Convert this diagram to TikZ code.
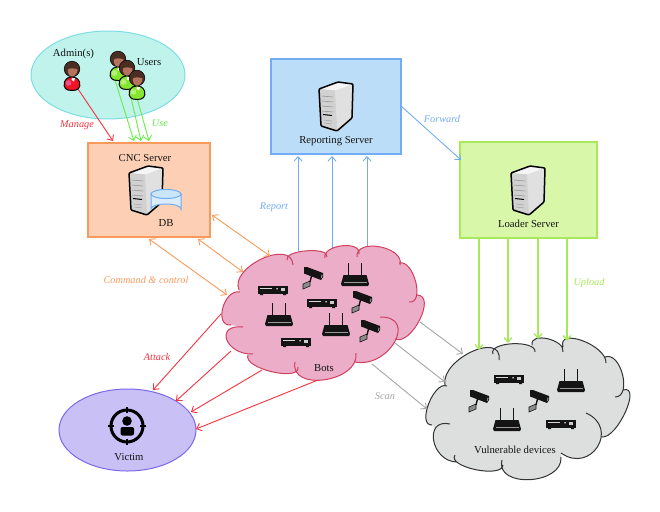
\documentclass[tikz,border=0pt]{standalone}
\usepackage{fontspec}
\setmainfont{Liberation Serif}
\usetikzlibrary{calc,arrows.meta,shapes.geometric}
\definecolor{ovalfill}{HTML}{BFF3EC}\definecolor{ovaldraw}{HTML}{7FDDE2}
\definecolor{cncfill}{HTML}{FDD0B5}\definecolor{cncdraw}{HTML}{F79A5C}
\definecolor{repfill}{HTML}{BBDDF7}\definecolor{repdraw}{HTML}{72ACF5}
\definecolor{loadfill}{HTML}{D8F7A8}\definecolor{loaddraw}{HTML}{A8E85A}
\definecolor{vicfill}{HTML}{C9C0F5}\definecolor{vicdraw}{HTML}{7B68EE}
\definecolor{botfill}{HTML}{EBADC8}\definecolor{botdraw}{HTML}{D0405F}
\definecolor{vulfill}{HTML}{DDDFDF}\definecolor{vuldraw}{HTML}{333333}
\definecolor{redc}{HTML}{F5333F}\definecolor{greenc}{HTML}{66EE44}
\definecolor{orangec}{HTML}{F79A5C}\definecolor{grayc}{HTML}{A5A5A5}
\definecolor{hair}{HTML}{4A2E22}\definecolor{face}{HTML}{B5725C}
\definecolor{ink}{HTML}{141414}
\definecolor{userbody}{HTML}{84E62E}\definecolor{userlight}{HTML}{B5F07A}
\definecolor{adminbody}{HTML}{EE1525}\definecolor{adminlight}{HTML}{F0508A}
\tikzset{
  lbl/.style={font=\fontsize{10.7}{12}\selectfont,text=ink,inner sep=0pt},
  arrowlbl/.style={font=\fontsize{10.3}{12}\selectfont\itshape,inner sep=0pt},
  boxnode/.style={rectangle,line width=1.3pt,inner sep=0pt},
  ovalnode/.style={ellipse,line width=1pt,inner sep=0pt},
  conn/.style={line width=.9pt,-{Straight Barb[length=4.5pt,width=8pt]}},
  conntwo/.style={line width=.9pt,{Straight Barb[length=4.5pt,width=8pt]}-{Straight Barb[length=4.5pt,width=8pt]}},
  connup/.style={line width=1.3pt,-{Straight Barb[length=4.5pt,width=8pt]}},
}
\newcommand{\lobeDraw}[3]{(#1) .. controls ($.413*(#1)+1.333*(#2)-.747*(#3)$) and ($.413*(#3)+1.333*(#2)-.747*(#1)$) .. (#3)}
\newcommand{\lobeFill}[3]{-- \lobeDraw{#1}{#2}{#3}}
\newcommand{\lobeWedge}[3]{\fill \lobeDraw{#1}{#2}{#3} -- (cloudcentre) -- cycle;}
\newcommand{\botsLobes}{%
 \Lobe{239,290}{262,259}{293,265}\Lobe{287,260}{307,251}{327,257}\Lobe{325,258}{342,246}{359,254}%
 \Lobe{357,257}{380,247}{400,265}\Lobe{399,263}{416,282}{409,302}\Lobe{417,295}{420,320}{395,339}%
 \Lobe{380,317}{395,342}{355,362}\Lobe{356,353}{325,380}{295,362}\Lobe{298,367}{272,372}{248,355}%
 \Lobe{253,354}{227,340}{243,327}\Lobe{231,325}{223,308}{240,292}}
\newcommand{\vulnLobes}{%
 \Lobe{445,385}{472,352}{499,360}\Lobe{493,354}{513,344}{535,352}\Lobe{532,345}{548,339}{563,352}%
 \Lobe{563,347}{583,341}{606,363}\Lobe{605,357}{623,375}{615,397}\Lobe{623,390}{626,412}{602,437}%
 \Lobe{586,413}{598,447}{561,453}\Lobe{561,457}{530,480}{502,460}\Lobe{503,465}{476,470}{455,455}%
 \Lobe{450,424}{434,441}{457,462}\Lobe{432,425}{429,404}{447,386}}
% person: head centre
\newcommand{\person}[4]{\begin{scope}[shift={(#1,#2)}]
 \fill[#3,draw=black,line width=1pt] (-7.5,13) .. controls (-9,19) and (-6,21.5) .. (0,21.5) .. controls (6,21.5) and (9,19) .. (7.5,13) .. controls (5,6) and (-5,6) .. (-7.5,13) -- cycle;
 \fill[#4] (-3.5,14) circle (2.8);
 \fill[white] (0,9) -- (3,9) -- (2,12.5) -- (-.5,11) -- cycle;
 \fill[hair,draw=black,line width=.5pt] (0,0) circle (7.8);
 \fill[face] (-4,0.5) .. controls (-3,-1) and (3,-1) .. (5.5,0.5) .. controls (5.5,5) and (2,7.6) .. (0,7.6) .. controls (-3,7.6) and (-4.5,4) .. (-4,0.5) -- cycle;
\end{scope}}
% server: top-left of bounding box
\newcommand{\serverbox}[2]{\begin{scope}[shift={(#1,#2)}]
 \fill[white!88!black] (15.5,8) -- (34,2) -- (33,36) -- (18,49) -- cycle;
 \fill[white!96!black] (0,7) -- (19,0) -- (34,2) -- (16,8.5) -- cycle;
 \fill[white!82!black] (0,7) -- (16,8.5) -- (18,49) -- (2,44) -- cycle;
 \draw[black,line width=1.5pt,line join=round,rounded corners=1pt] (0,7) -- (19,0) -- (34,2) -- (33,36) -- (18,49) -- (2,44) -- cycle;
 \draw[white!55!black,line width=.5pt] (3,14)--(14,15) (3,19)--(14,20) (3,24)--(14,25) (3,29)--(14,30);
 \draw[black,line width=1pt] (4,32.5)--(13,33.5);
 \draw[white!60!black,line width=.4pt] (5,38)--(13,39) (5,41)--(13,42);
\end{scope}}
% router: centre x, bottom y
\newcommand{\routerdev}[2]{\begin{scope}[shift={(#1,#2)}]
 \draw[ink,line width=1pt] (-6.5,-10)--(-6.5,-23) (6,-10)--(6,-23);
 \fill[ink] (-14,-2) -- (-11.5,-11) -- (11.5,-11) -- (14,-2) -- (13,0) -- (-13,0) -- cycle;
 \draw[white!60!black,line width=.3pt] (-11,-3.5)--(12,-3.5);
\end{scope}}
% dvr: centre
\newcommand{\dvrdev}[2]{\begin{scope}[shift={(#1,#2)}]
 \fill[ink] (-15,-4.5) rectangle (15,3.5);
 \fill[ink] (-13,3) rectangle (-10,5) (10,3) rectangle (13,5);
 \fill[white!85!black] (-13,-2.2) rectangle (-1,-1);
 \fill[white] (4,-1.2) circle (.8);
 \fill[white!80!black] (8,-2.5) rectangle (12,.8);
\end{scope}}
% camera: centre
\newcommand{\camdev}[2]{\begin{scope}[shift={(#1,#2)}]
 \fill[white!55!black,draw=ink,line width=.6pt] (-10,6) -- (-3,3) -- (-3,8) -- (-10,11) -- cycle;
 \draw[ink,line width=1.4pt] (-3,4) -- (-1,-4);
 \fill[ink] (-9,-11) -- (-6,-11) -- (10,-5) -- (10,-1) -- (8,2) -- (-9,-4.5) -- cycle;
 \fill[white!55!black] (8.5,-3.5) -- (9.6,-3) -- (8.7,0) -- (7.8,-.5) -- cycle;
\end{scope}}
\begin{document}
\begin{tikzpicture}[x=1pt,y=-1pt]
\useasboundingbox (0,0) rectangle (660,511);
% areas
\node[ovalnode,draw=ovaldraw,fill=ovalfill,minimum width=154pt,minimum height=88pt] (oval) at (108,75) {};
\node[boxnode,draw=cncdraw,fill=cncfill,minimum width=122pt,minimum height=94pt] (cnc) at (149,190) {};
\node[boxnode,draw=repdraw,fill=repfill,minimum width=130pt,minimum height=95pt] (rep) at (336,106.5) {};
\node[boxnode,draw=loaddraw,fill=loadfill,minimum width=137pt,minimum height=96pt] (load) at (528.5,190) {};
\node[ovalnode,draw=vicdraw,fill=vicfill,minimum width=137pt,minimum height=82pt] (victim) at (127.5,430) {};
% connector ends
\coordinate (adminfoot) at (78,89);
\coordinate (userA) at (115,80); \coordinate (userB) at (128,85); \coordinate (userC) at (137,98);
\coordinate (cncM) at (113,141); \coordinate (cncA) at (134,141); \coordinate (cncB) at (141,141); \coordinate (cncC) at (149,141);
\coordinate (cncR) at (212,215); \coordinate (cncS) at (198,239); \coordinate (cncT) at (149,239);
\coordinate (botO1) at (270,256); \coordinate (botO2) at (243,272); \coordinate (botO3) at (227,295);
\coordinate (botU1) at (298,262); \coordinate (botU2) at (332,262); \coordinate (botU3) at (367,262);
\coordinate (repA) at (298,156); \coordinate (repB) at (332,156); \coordinate (repC) at (367,156);
\coordinate (repF) at (401,106); \coordinate (loadF) at (461,160);
\coordinate (loadA) at (479,238); \coordinate (loadB) at (508,238); \coordinate (loadC) at (538,238); \coordinate (loadD) at (567,238);
\coordinate (vulA) at (479,350); \coordinate (vulB) at (508,343); \coordinate (vulC) at (538,339); \coordinate (vulD) at (567,341);
\coordinate (botS1) at (420,322); \coordinate (botS2) at (395,343); \coordinate (botS3) at (372,364);
\coordinate (vulS1) at (463,354); \coordinate (vulS2) at (445,382); \coordinate (vulS3) at (427,409);
\coordinate (botK1) at (221,314); \coordinate (botK2) at (231,351); \coordinate (botK3) at (262,370); \coordinate (botK4) at (318,380);
\coordinate (vicK1) at (153,390); \coordinate (vicK2) at (176,401); \coordinate (vicK3) at (191,412); \coordinate (vicK4) at (196,429);
% report arrows start under the bots cloud
\draw[conn,repdraw] (botU1) -- (repA);
\draw[conn,repdraw] (botU2) -- (repB);
\draw[conn,repdraw] (botU3) -- (repC);
% clouds
\coordinate (cloudcentre) at (325,310);
\begin{scope}[botfill]
\let\Lobe\lobeFill
\fill (239,290) \botsLobes -- cycle;
\let\Lobe\lobeWedge
\botsLobes
\end{scope}
\let\Lobe\lobeDraw
\draw[botdraw,line width=1pt] \botsLobes;
\coordinate (cloudcentre) at (530,410);
\begin{scope}[vulfill]
\let\Lobe\lobeFill
\fill (445,385) \vulnLobes -- cycle;
\let\Lobe\lobeWedge
\vulnLobes
\end{scope}
\let\Lobe\lobeDraw
\draw[vuldraw,line width=1pt] \vulnLobes;
% connectors
\draw[conn,redc] (adminfoot) -- (cncM);
\draw[conn,greenc] (userA) -- (cncA);
\draw[conn,greenc] (userB) -- (cncB);
\draw[conn,greenc] (userC) -- (cncC);
\draw[conntwo,orangec] (cncR) -- (botO1);
\draw[conntwo,orangec] (cncS) -- (botO2);
\draw[conntwo,orangec] (cncT) -- (botO3);
\draw[conn,repdraw] (repF) -- (loadF);
\draw[connup,loaddraw] (loadA) -- (vulA);
\draw[connup,loaddraw] (loadB) -- (vulB);
\draw[connup,loaddraw] (loadC) -- (vulC);
\draw[connup,loaddraw] (loadD) -- (vulD);
\draw[conn,grayc] (botS1) -- (vulS1);
\draw[conn,grayc] (botS2) -- (vulS2);
\draw[conn,grayc] (botS3) -- (vulS3);
\draw[conn,redc] (botK1) -- (vicK1);
\draw[conn,redc] (botK2) -- (vicK2);
\draw[conn,redc] (botK3) -- (vicK3);
\draw[conn,redc] (botK4) -- (vicK4);
% people
\person{72}{69}{adminbody}{adminlight}
\person{118}{59}{userbody}{userlight}
\person{127}{68}{userbody}{userlight}
\person{137}{78}{userbody}{userlight}
% servers
\serverbox{129}{166}
\serverbox{319}{82}
\serverbox{511}{166}
% database
\path[fill=repfill!55!white,draw=repdraw,line width=1pt] (151,194) -- (151,209) arc [start angle=180,end angle=360,x radius=15,y radius=5] -- (181,194) -- cycle;
\path[fill=repfill!75!white,draw=repdraw,line width=1pt] (166,194) ellipse [x radius=15,y radius=4.5];
% devices in bots
\routerdev{355}{286}\routerdev{279}{326}\routerdev{336}{336}
\dvrdev{273}{290}\dvrdev{322}{303}\dvrdev{296}{342}
\camdev{313}{278}\camdev{362}{302}\camdev{370}{331}
% devices in vulnerable cloud
\routerdev{571}{392}\routerdev{507}{431}
\dvrdev{509}{379}\dvrdev{561}{424}
\camdev{479}{401}\camdev{539}{401}
% victim icon
\draw[black,line width=3pt] (127,426) circle (16);
\draw[black,line width=1.8pt] (127,407)--(127,413) (127,439)--(127,445) (108,426)--(114,426) (140,426)--(146,426);
\fill[black] (127,421) circle (4.8);
\fill[black,rounded corners=2pt] (120.5,427) rectangle (134,435.5);
% texts
\node[lbl] (tadmin) at (73.5,54) {Admin(s)};
\node[lbl] (tusers) at (149,62) {Users};
\node[lbl] (tcnc) at (145,158) {CNC Server};
\node[lbl] (tdb) at (166,223) {DB};
\node[lbl] (trep) at (336,141) {Reporting Server};
\node[lbl] (tload) at (528.5,224) {Loader Server};
\node[lbl] (tbots) at (324,368) {Bots};
\node[lbl] (tvul) at (515,450) {Vulnerable devices};
\node[lbl] (tvic) at (129,457) {Victim};
\node[arrowlbl,text=redc] (lman) at (77,125) {Manage};
\node[arrowlbl,text=greenc] (luse) at (160,123) {Use};
\node[arrowlbl,text=repdraw] (lrep) at (274,207) {Report};
\node[arrowlbl,text=repdraw] (lfor) at (442,119) {Forward};
\node[arrowlbl,text=loaddraw] (lup) at (589,283) {Upload};
\node[arrowlbl,text=orangec] (lcmd) at (146,280) {Command \& control};
\node[arrowlbl,text=redc] (latt) at (157,357) {Attack};
\node[arrowlbl,text=grayc] (lscan) at (385,396) {Scan};
\end{tikzpicture}
\end{document}
